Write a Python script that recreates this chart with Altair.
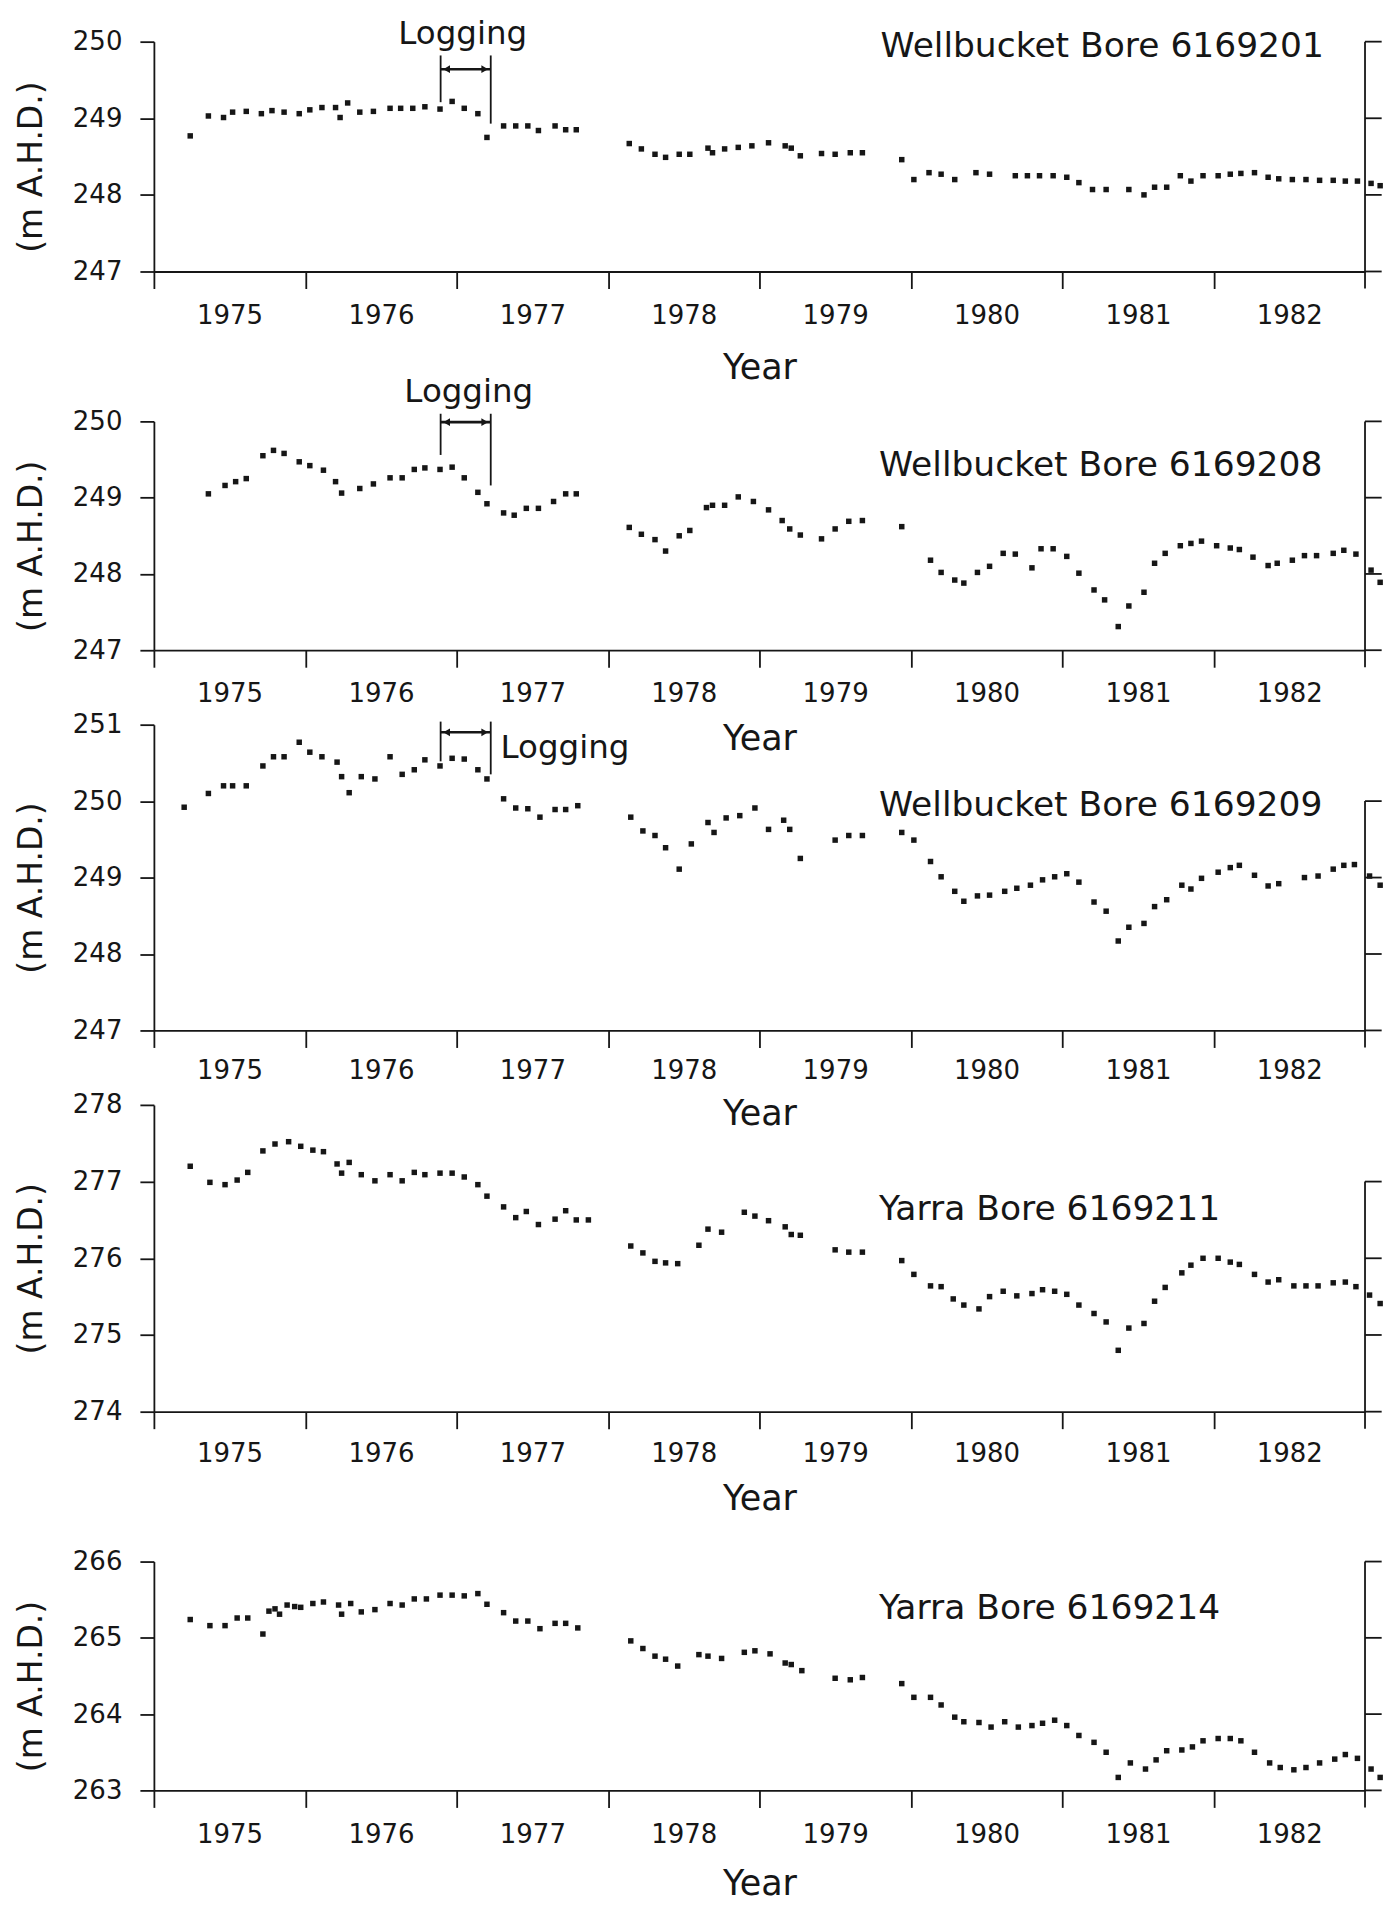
import altair as alt
import pandas as pd

FONT = "DejaVu Sans"
INK = "#161616"

TICK_YEARS = [1975, 1976, 1977, 1978, 1979, 1980, 1981, 1982]
Y_TITLE = "(m A.H.D.)"
X_TITLE = "Year"

# ---------------- Wellbucket Bore 6169201 ----------------
P1_T = [1975.24, 1975.36, 1975.46, 1975.52, 1975.61, 1975.71, 1975.78, 1975.86, 1975.96, 1976.03,
        1976.11, 1976.20, 1976.23, 1976.28, 1976.36, 1976.45, 1976.56, 1976.63, 1976.71, 1976.79,
        1976.89, 1976.97, 1977.05, 1977.14, 1977.20, 1977.31, 1977.39, 1977.47, 1977.54, 1977.65,
        1977.72, 1977.79,
        1978.14, 1978.22, 1978.31, 1978.38, 1978.47, 1978.54, 1978.66, 1978.69, 1978.77, 1978.86,
        1978.95, 1979.06, 1979.17, 1979.21, 1979.27, 1979.41, 1979.50, 1979.60, 1979.68,
        1979.94, 1980.02, 1980.12, 1980.20, 1980.29, 1980.43, 1980.52, 1980.69, 1980.77, 1980.85,
        1980.94, 1981.03, 1981.11, 1981.20, 1981.29, 1981.44, 1981.54, 1981.61, 1981.69, 1981.78,
        1981.85, 1981.93, 1982.03, 1982.11, 1982.18, 1982.27, 1982.36, 1982.43, 1982.52, 1982.61,
        1982.70, 1982.79, 1982.87, 1982.95, 1983.04, 1983.10]
P1_H = [248.77, 249.03, 249.01, 249.08, 249.09, 249.06, 249.10, 249.08, 249.06, 249.11,
        249.14, 249.14, 249.01, 249.20, 249.08, 249.09, 249.13, 249.13, 249.13, 249.15,
        249.12, 249.22, 249.13, 249.06, 248.75, 248.90, 248.90, 248.90, 248.84, 248.90,
        248.85, 248.85,
        248.67, 248.60, 248.53, 248.49, 248.53, 248.53, 248.61, 248.55, 248.60, 248.62,
        248.64, 248.68, 248.64, 248.61, 248.51, 248.54, 248.53, 248.55, 248.55,
        248.46, 248.20, 248.29, 248.27, 248.20, 248.29, 248.27, 248.25, 248.25, 248.25,
        248.25, 248.23, 248.16, 248.07, 248.07, 248.07, 248.00, 248.10, 248.10, 248.25,
        248.18, 248.25, 248.25, 248.27, 248.28, 248.29, 248.23, 248.21, 248.20, 248.20,
        248.19, 248.19, 248.18, 248.18, 248.15, 248.12]

# ---------------- Wellbucket Bore 6169208 ----------------
P2_T = [1975.36, 1975.47, 1975.54, 1975.61, 1975.72, 1975.79, 1975.86, 1975.96, 1976.03, 1976.12,
        1976.20, 1976.24, 1976.36, 1976.45, 1976.56, 1976.64, 1976.72, 1976.79, 1976.89, 1976.97,
        1977.05, 1977.14, 1977.20, 1977.31, 1977.38, 1977.46, 1977.54, 1977.64, 1977.72, 1977.79,
        1978.14, 1978.22, 1978.31, 1978.38, 1978.47, 1978.54, 1978.65, 1978.69, 1978.77, 1978.86,
        1978.96, 1979.06, 1979.15, 1979.20, 1979.27, 1979.41, 1979.50, 1979.59, 1979.68,
        1979.94, 1980.13, 1980.20, 1980.29, 1980.35, 1980.44, 1980.52, 1980.61, 1980.69, 1980.80,
        1980.86, 1980.94, 1981.03, 1981.11, 1981.21, 1981.28, 1981.37, 1981.44, 1981.54, 1981.61,
        1981.68, 1981.78, 1981.85, 1981.92, 1982.02, 1982.11, 1982.17, 1982.26, 1982.36, 1982.42,
        1982.52, 1982.60, 1982.68, 1982.79, 1982.86, 1982.94, 1983.04, 1983.10]
P2_H = [249.05, 249.16, 249.21, 249.25, 249.55, 249.62, 249.58, 249.47, 249.42, 249.36,
        249.21, 249.06, 249.12, 249.18, 249.26, 249.26, 249.37, 249.39, 249.37, 249.40,
        249.26, 249.07, 248.92, 248.80, 248.77, 248.86, 248.86, 248.95, 249.05, 249.05,
        248.61, 248.52, 248.45, 248.30, 248.50, 248.57, 248.87, 248.90, 248.90, 249.01,
        248.95, 248.84, 248.70, 248.59, 248.51, 248.46, 248.59, 248.69, 248.70,
        248.62, 248.18, 248.02, 247.92, 247.88, 248.02, 248.10, 248.27, 248.26, 248.08,
        248.33, 248.33, 248.23, 248.01, 247.79, 247.66, 247.31, 247.58, 247.76, 248.14,
        248.27, 248.37, 248.40, 248.43, 248.37, 248.34, 248.32, 248.22, 248.11, 248.14,
        248.18, 248.24, 248.24, 248.27, 248.31, 248.26, 248.05, 247.89]

# ---------------- Wellbucket Bore 6169209 ----------------
P3_T = [1975.20, 1975.36, 1975.46, 1975.52, 1975.61, 1975.72, 1975.79, 1975.86, 1975.96, 1976.03,
        1976.11, 1976.21, 1976.24, 1976.29, 1976.37, 1976.46, 1976.56, 1976.64, 1976.72, 1976.79,
        1976.89, 1976.97, 1977.05, 1977.14, 1977.20, 1977.31, 1977.39, 1977.47, 1977.55, 1977.65,
        1977.72, 1977.80,
        1978.15, 1978.23, 1978.31, 1978.38, 1978.47, 1978.55, 1978.66, 1978.70, 1978.78, 1978.87,
        1978.97, 1979.06, 1979.16, 1979.20, 1979.27, 1979.50, 1979.59, 1979.68,
        1979.94, 1980.02, 1980.13, 1980.20, 1980.29, 1980.35, 1980.44, 1980.52, 1980.62, 1980.70,
        1980.79, 1980.87, 1980.95, 1981.03, 1981.11, 1981.21, 1981.29, 1981.37, 1981.44, 1981.54,
        1981.61, 1981.69, 1981.79, 1981.85, 1981.92, 1982.03, 1982.11, 1982.17, 1982.27, 1982.36,
        1982.43, 1982.60, 1982.69, 1982.79, 1982.86, 1982.93, 1983.03, 1983.10]
P3_H = [249.92, 250.10, 250.20, 250.20, 250.20, 250.46, 250.58, 250.58, 250.77, 250.64,
        250.58, 250.51, 250.32, 250.11, 250.32, 250.29, 250.58, 250.35, 250.41, 250.54,
        250.46, 250.56, 250.55, 250.41, 250.29, 250.03, 249.91, 249.90, 249.79, 249.89,
        249.89, 249.94,
        249.79, 249.61, 249.55, 249.39, 249.11, 249.44, 249.72, 249.59, 249.78, 249.81,
        249.91, 249.63, 249.75, 249.63, 249.25, 249.49, 249.55, 249.55,
        249.59, 249.49, 249.21, 249.01, 248.82, 248.69, 248.76, 248.77, 248.82, 248.86,
        248.90, 248.97, 249.01, 249.05, 248.94, 248.68, 248.56, 248.17, 248.35, 248.40,
        248.62, 248.71, 248.90, 248.85, 248.99, 249.07, 249.13, 249.16, 249.03, 248.89,
        248.92, 249.00, 249.02, 249.11, 249.16, 249.17, 249.02, 248.90]

# ---------------- Yarra Bore 6169211 ----------------
P4_T = [1975.24, 1975.37, 1975.47, 1975.55, 1975.62, 1975.72, 1975.80, 1975.89, 1975.97, 1976.05,
        1976.12, 1976.21, 1976.24, 1976.29, 1976.37, 1976.46, 1976.56, 1976.64, 1976.72, 1976.79,
        1976.89, 1976.97, 1977.05, 1977.14, 1977.20, 1977.31, 1977.39, 1977.46, 1977.54, 1977.65,
        1977.72, 1977.79, 1977.87,
        1978.15, 1978.23, 1978.31, 1978.38, 1978.46, 1978.60, 1978.66, 1978.75, 1978.90, 1978.97,
        1979.06, 1979.17, 1979.21, 1979.27, 1979.50, 1979.59, 1979.68,
        1979.94, 1980.02, 1980.13, 1980.20, 1980.28, 1980.35, 1980.45, 1980.52, 1980.61, 1980.70,
        1980.80, 1980.87, 1980.95, 1981.03, 1981.11, 1981.21, 1981.29, 1981.37, 1981.44, 1981.54,
        1981.61, 1981.68, 1981.79, 1981.85, 1981.93, 1982.03, 1982.11, 1982.17, 1982.27, 1982.36,
        1982.43, 1982.53, 1982.61, 1982.69, 1982.79, 1982.87, 1982.94, 1983.03, 1983.10]
P4_H = [277.20, 276.99, 276.96, 277.02, 277.12, 277.40, 277.49, 277.52, 277.46, 277.41,
        277.39, 277.23, 277.11, 277.25, 277.09, 277.01, 277.09, 277.01, 277.12, 277.09,
        277.11, 277.11, 277.06, 276.96, 276.81, 276.67, 276.53, 276.61, 276.44, 276.51,
        276.62, 276.50, 276.50,
        276.16, 276.07, 275.96, 275.94, 275.93, 276.17, 276.38, 276.34, 276.60, 276.55,
        276.49, 276.41, 276.31, 276.30, 276.11, 276.08, 276.08,
        275.97, 275.79, 275.64, 275.63, 275.47, 275.39, 275.34, 275.50, 275.57, 275.51,
        275.54, 275.59, 275.57, 275.53, 275.39, 275.28, 275.17, 274.80, 275.09, 275.15,
        275.44, 275.62, 275.81, 275.91, 276.00, 276.00, 275.95, 275.92, 275.79, 275.69,
        275.72, 275.64, 275.64, 275.64, 275.68, 275.69, 275.63, 275.52, 275.41]

# ---------------- Yarra Bore 6169214 ----------------
P5_T = [1975.24, 1975.37, 1975.47, 1975.55, 1975.62, 1975.72, 1975.76, 1975.80, 1975.83, 1975.88,
        1975.93, 1975.97, 1976.05, 1976.12, 1976.22, 1976.24, 1976.30, 1976.37, 1976.46, 1976.56,
        1976.64, 1976.72, 1976.80, 1976.89, 1976.97, 1977.05, 1977.14, 1977.20, 1977.31, 1977.39,
        1977.47, 1977.55, 1977.65, 1977.72, 1977.80,
        1978.15, 1978.23, 1978.31, 1978.38, 1978.46, 1978.60, 1978.66, 1978.75, 1978.90, 1978.97,
        1979.07, 1979.17, 1979.21, 1979.28, 1979.50, 1979.60, 1979.68,
        1979.94, 1980.02, 1980.13, 1980.20, 1980.29, 1980.35, 1980.45, 1980.53, 1980.62, 1980.71,
        1980.80, 1980.87, 1980.95, 1981.03, 1981.11, 1981.21, 1981.29, 1981.37, 1981.45, 1981.55,
        1981.62, 1981.69, 1981.79, 1981.86, 1981.93, 1982.03, 1982.11, 1982.18, 1982.27, 1982.37,
        1982.44, 1982.53, 1982.61, 1982.70, 1982.80, 1982.87, 1982.95, 1983.04, 1983.10]
P5_H = [265.24, 265.16, 265.16, 265.26, 265.26, 265.05, 265.35, 265.38, 265.31, 265.43,
        265.41, 265.40, 265.45, 265.47, 265.43, 265.31, 265.45, 265.34, 265.37, 265.45,
        265.43, 265.51, 265.51, 265.56, 265.56, 265.55, 265.58, 265.44, 265.33, 265.22,
        265.22, 265.12, 265.19, 265.19, 265.13,
        264.96, 264.86, 264.76, 264.72, 264.63, 264.78, 264.76, 264.73, 264.81, 264.83,
        264.79, 264.67, 264.65, 264.57, 264.47, 264.45, 264.48,
        264.40, 264.22, 264.22, 264.12, 263.96, 263.90, 263.89, 263.83, 263.90, 263.83,
        263.85, 263.88, 263.92, 263.85, 263.72, 263.63, 263.50, 263.17, 263.36, 263.28,
        263.40, 263.52, 263.53, 263.57, 263.65, 263.68, 263.68, 263.65, 263.50, 263.36,
        263.30, 263.27, 263.30, 263.36, 263.41, 263.47, 263.42, 263.28, 263.17]

BORE_NAMES = ["Wellbucket Bore 6169201", "Wellbucket Bore 6169208", "Wellbucket Bore 6169209",
              "Yarra Bore 6169211", "Yarra Bore 6169214"]
BORE_NAME_POS = [(1979.80, 249.80), (1979.79, 249.29), (1979.79, 249.80), (1979.79, 276.50), (1979.79, 265.25)]
Y_DOMAINS = [(247, 250), (247, 250), (247, 251), (274, 278), (263, 266)]
RIGHT_TOP = [250, 250, 250, 277, 266]

# Logging bracket: start, end, and per panel: top, arrow level, left-bar bottom, right-bar bottom
LOG_START = 1976.894
LOG_END = 1977.225
LOG_LEVELS = [(249.82, 249.64, 249.21, 248.93), (250.10, 249.99, 249.56, 249.16), (251.04, 250.90, 250.52, 250.35)]
LOG_LABEL = [(1977.04, 249.97, "center"), (1977.08, 250.25, "center"), (1977.29, 250.56, "left")]

SERIES = [(P1_T, P1_H), (P2_T, P2_H), (P3_T, P3_H), (P4_T, P4_H), (P5_T, P5_H)]
HEIGHTS = [230, 229, 306, 307, 229]
LABEL_BASE = [52, 51, 48, 50, 52]
TITLE_BASE = [107, 99, 94, 98, 104]
W = 1212
YEAR_PX = W / 8.0


def panel(i):
    yt, yh = SERIES[i]
    ymin, ymax = Y_DOMAINS[i]
    h = HEIGHTS[i]
    xs = alt.Scale(domain=[1975, 1983], nice=False, zero=False)
    ys = alt.Scale(domain=[ymin, ymax], nice=False, zero=False)

    x_axis = alt.Axis(values=TICK_YEARS, format="d",
                      labelOffset=YEAR_PX / 2, labelOverlap=False, labelFlush=False, labelBound=False,
                      labelFont=FONT, labelFontSize=26, labelColor=INK,
                      labelBaseline="alphabetic", labelPadding=LABEL_BASE[i] - 17,
                      tickSize=17, tickWidth=1.8, tickColor=INK,
                      domainColor=INK, domainWidth=1.8, grid=False,
                      titleFont=FONT, titleFontSize=35, titleFontWeight="normal", titleColor=INK,
                      titleBaseline="alphabetic", titleY=TITLE_BASE[i], titleX=W / 2)
    y_axis = alt.Axis(values=list(range(ymin, ymax + 1)), format="d",
                      labelFont=FONT, labelFontSize=26, labelColor=INK, labelPadding=18,
                      tickSize=14, tickWidth=1.8, tickColor=INK,
                      domainColor=INK, domainWidth=1.8, grid=False,
                      titleFont=FONT, titleFontSize=33, titleFontWeight="normal", titleColor=INK,
                      titleAngle=270, titleBaseline="middle", titleAlign="center",
                      titleX=-122, titleY=h / 2 + 10)

    df = pd.DataFrame({"year": yt[:len(yh)], "level": yh[:len(yt)]})
    pts = alt.Chart(df).mark_square(size=30, color=INK, opacity=1).encode(
        x=alt.X("year:Q", scale=xs, axis=x_axis, title=X_TITLE),
        y=alt.Y("level:Q", scale=ys, axis=y_axis, title=Y_TITLE),
    )

    nx, ny = BORE_NAME_POS[i]
    name = alt.Chart(pd.DataFrame({"year": [nx], "level": [ny], "label": [BORE_NAMES[i]]})).mark_text(
        align="left", baseline="alphabetic", font=FONT, fontSize=34.5, color=INK
    ).encode(x=alt.X("year:Q", scale=xs), y=alt.Y("level:Q", scale=ys), text="label:N")

    # right-hand axis fragment (start of the next sheet)
    rt = RIGHT_TOP[i]
    rline = alt.Chart(pd.DataFrame({"year": [1983.0], "level": [rt]})).mark_rule(
        color=INK, strokeWidth=1.8
    ).encode(x=alt.X("year:Q", scale=xs), y=alt.Y("level:Q", scale=ys), y2=alt.value(h + 17))
    rticks_v = list(range(ymin, rt + 1))
    rticks = alt.Chart(pd.DataFrame({"year": [1983.0] * len(rticks_v), "year2": [1983.11] * len(rticks_v),
                                     "level": rticks_v})).mark_rule(color=INK, strokeWidth=1.8).encode(
        x=alt.X("year:Q", scale=xs), x2="year2:Q", y=alt.Y("level:Q", scale=ys))

    layers = [pts, name, rline, rticks]

    if i < 3:
        top, arrow, lb, rb = LOG_LEVELS[i]
        bars = alt.Chart(pd.DataFrame({"year": [LOG_START, LOG_END], "level": [top, top],
                                       "level2": [lb, rb]})).mark_rule(color=INK, strokeWidth=1.8).encode(
            x=alt.X("year:Q", scale=xs), y=alt.Y("level:Q", scale=ys), y2="level2:Q")
        shaft = alt.Chart(pd.DataFrame({"year": [LOG_START], "year2": [LOG_END], "level": [arrow]})).mark_rule(
            color=INK, strokeWidth=2.6).encode(
            x=alt.X("year:Q", scale=xs), x2="year2:Q", y=alt.Y("level:Q", scale=ys))
        head_l = alt.Chart(pd.DataFrame({"year": [LOG_START], "level": [arrow]})).mark_point(
            shape="triangle-left", filled=True, size=60, color=INK, opacity=1, xOffset=6).encode(
            x=alt.X("year:Q", scale=xs), y=alt.Y("level:Q", scale=ys))
        head_r = alt.Chart(pd.DataFrame({"year": [LOG_END], "level": [arrow]})).mark_point(
            shape="triangle-right", filled=True, size=60, color=INK, opacity=1, xOffset=-6).encode(
            x=alt.X("year:Q", scale=xs), y=alt.Y("level:Q", scale=ys))
        lx, ly, la = LOG_LABEL[i]
        ltext = alt.Chart(pd.DataFrame({"year": [lx], "level": [ly], "label": ["Logging"]})).mark_text(
            align=la, baseline="alphabetic", font=FONT, fontSize=32.5, color=INK
        ).encode(x=alt.X("year:Q", scale=xs), y=alt.Y("level:Q", scale=ys), text="label:N")
        layers += [bars, shaft, head_l, head_r, ltext]

    return alt.layer(*layers).properties(width=W, height=h)


def spacer():
    return alt.Chart(pd.DataFrame({"year": [1975.0], "level": [0.0]})).mark_point(opacity=0).encode(
        x=alt.X("year:Q", axis=None), y=alt.Y("level:Q", axis=None)
    ).properties(width=W, height=1)


chart = alt.vconcat(
    panel(0), spacer(), panel(1), panel(2), panel(3), spacer(), panel(4),
    spacing=74.5, bounds="flush"
).properties(
    padding={"left": 15, "top": 17, "right": 0, "bottom": 5},
    background="white",
).configure_view(stroke=None)

chart.save("out.html", embed_options={"renderer": "svg", "actions": False})
